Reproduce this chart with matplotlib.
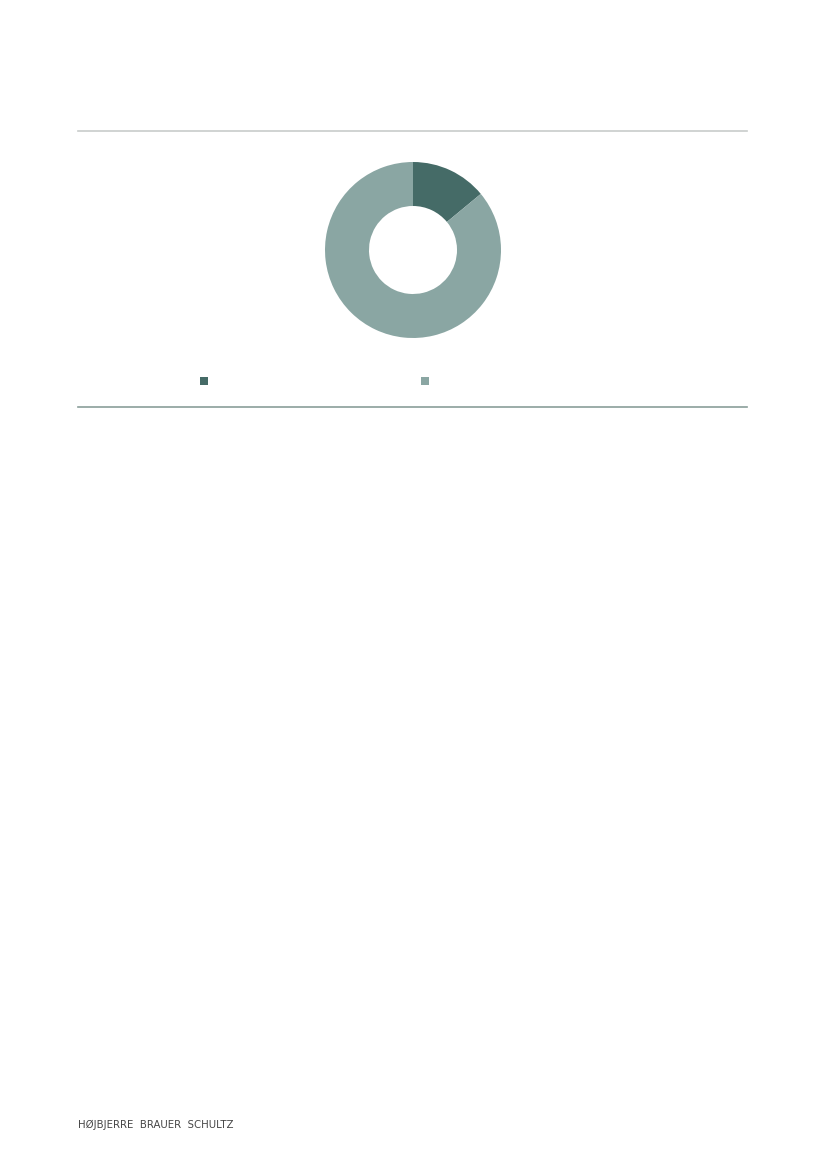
import matplotlib.pyplot as plt
from matplotlib.lines import Line2D
from matplotlib.patches import Rectangle

# Data (dark slice starts at 12 o'clock, goes clockwise)
shares = [14, 86]
colors = ["#456b67", "#8aa6a3"]
legend_labels = ["", ""]

W, H = 827, 1169
fig = plt.figure(figsize=(W / 100, H / 100), dpi=100)

# donut: centre (413, 250), outer radius ~88 px, inner ~44 px
cx, cy, r = 413, 250, 88
ax = fig.add_axes([(cx - r) / W, 1 - (cy + r) / H, 2 * r / W, 2 * r / H])
ax.pie(shares, colors=colors, startangle=90, counterclock=False,
       wedgeprops=dict(width=0.5, edgecolor="none"))
ax.set_xlim(-1, 1)
ax.set_ylim(-1, 1)
ax.set_aspect("equal")
ax.axis("off")

# page-level overlay in pixel coords
page = fig.add_axes([0, 0, 1, 1])
page.set_xlim(0, W)
page.set_ylim(H, 0)
page.axis("off")

page.add_line(Line2D([78, 747], [131, 131], color="#c8cccb", lw=1.2))
page.add_line(Line2D([78, 747], [407, 407], color="#8a9e9a", lw=1.2))

# legend squares (labels empty in the reference)
for x0, c, lab in zip([200, 421], colors, legend_labels):
    page.add_patch(Rectangle((x0, 377), 8, 8, color=c, lw=0))
    page.text(x0 + 14, 381, lab, va="center", fontsize=8, color="#555555")

page.text(78, 1125, "HØJBJERRE  BRAUER  SCHULTZ",
          va="center", ha="left", fontsize=7.3, color="#444444",
          family="DejaVu Sans")

fig.savefig("out.png", dpi=100)
